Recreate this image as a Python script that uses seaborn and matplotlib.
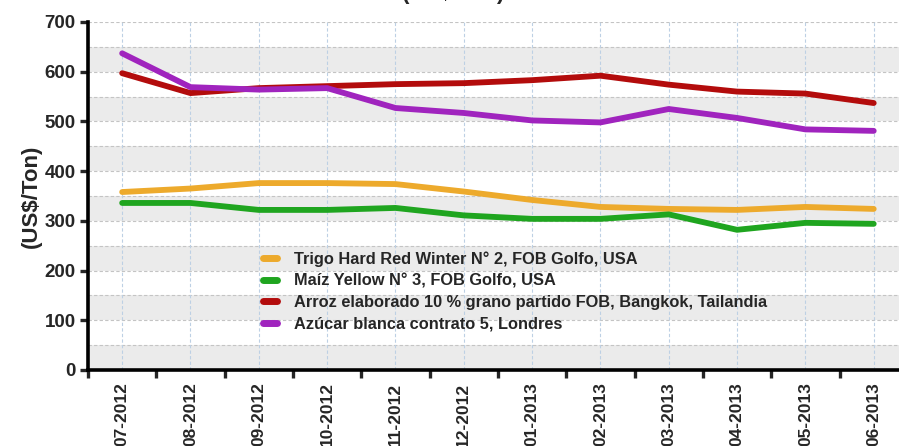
import matplotlib
matplotlib.use("Agg")
import matplotlib.pyplot as plt
import seaborn as sns
import pandas as pd

months = ["07-2012", "08-2012", "09-2012", "10-2012", "11-2012", "12-2012",
          "01-2013", "02-2013", "03-2013", "04-2013", "05-2013", "06-2013"]
trigo = [358, 365, 376, 376, 374, 359, 342, 328, 324, 322, 328, 324]
maiz = [336, 336, 322, 322, 326, 311, 304, 304, 313, 282, 296, 294]
arroz = [597, 557, 567, 571, 575, 577, 583, 592, 574, 560, 556, 537]
azucar = [637, 569, 564, 567, 527, 517, 502, 498, 525, 507, 484, 481]

names = ["Trigo Hard Red Winter N° 2, FOB Golfo, USA",
         "Maíz Yellow N° 3, FOB Golfo, USA",
         "Arroz elaborado 10 % grano partido FOB, Bangkok, Tailandia",
         "Azúcar blanca contrato 5, Londres"]
colors = ["#EDAA2C", "#1FA51F", "#B30C0C", "#A024BE"]
yticks = [0, 100, 200, 300, 400, 500, 600, 700]

rows = []
for name, vals in zip(names, [trigo, maiz, arroz, azucar]):
    for m, v in zip(months, vals):
        rows.append({"Mes": m, "Valor": v, "Serie": name})
df = pd.DataFrame(rows)

sns.set_style("white")
plt.rcParams["font.family"] = ["Liberation Sans", "DejaVu Sans"]
plt.rcParams["font.weight"] = "bold"

fig = plt.figure(figsize=(8.99, 4.46), dpi=100)
ax = fig.add_axes([88 / 899, 76 / 446, 1 - 88 / 899, 348 / 446])

# alternating bands and grid
for lo in range(0, 700, 100):
    ax.axhspan(lo, lo + 50, color="#EBEBEB", zorder=0, lw=0)
for y in range(50, 701, 50):
    ax.axhline(y, color="#C4C4C4", lw=0.8, ls=(0, (3, 2)), zorder=1)

sns.lineplot(data=df, x="Mes", y="Valor", hue="Serie", hue_order=names,
             palette=colors, sort=False, lw=4.2, ax=ax, zorder=3,
             solid_capstyle="round", solid_joinstyle="round")

for i in range(len(months)):
    ax.axvline(i, color="#BDD0E4", lw=0.8, ls=(0, (3, 2)), zorder=1)

ax.set_xlim(-0.5, 11.37)
ax.set_ylim(0, 700)
ax.set_yticks(yticks)
ax.set_yticklabels([str(t) for t in yticks], fontsize=13.5, fontweight="bold")
ax.set_xticks(range(len(months)))
ax.set_xticklabels(months, rotation=90, fontsize=12.5, fontweight="bold")
ax.tick_params(axis="x", which="major", length=0, pad=9)
ax.set_xticks([i + 0.5 for i in range(-1, 11)], minor=True)
ax.tick_params(axis="x", which="minor", length=6, width=2.4, direction="out", bottom=True)
ax.tick_params(axis="y", length=6, width=2.4, direction="out", left=True, pad=3)
ax.set_xlabel("")
ax.set_ylabel("(US$/Ton)", fontsize=16, fontweight="bold", labelpad=2)

for s in ["top", "right"]:
    ax.spines[s].set_visible(False)
for s in ["left", "bottom"]:
    ax.spines[s].set_linewidth(2.6)
    ax.spines[s].set_color("black")
    ax.spines[s].set_zorder(5)

leg = ax.legend(loc="upper left", bbox_to_anchor=(0.198, 0.384), frameon=False,
                prop={"size": 11.8, "weight": "bold"}, handlelength=0.85,
                handletextpad=1.05, labelspacing=0.4)
for h in leg.get_lines():
    h.set_linewidth(5)
    h.set_solid_capstyle("round")

fig.text(0.504, 0.991, "(US$/Ton)", ha="center", va="bottom", fontsize=16)

fig.savefig("out.png", dpi=100)
